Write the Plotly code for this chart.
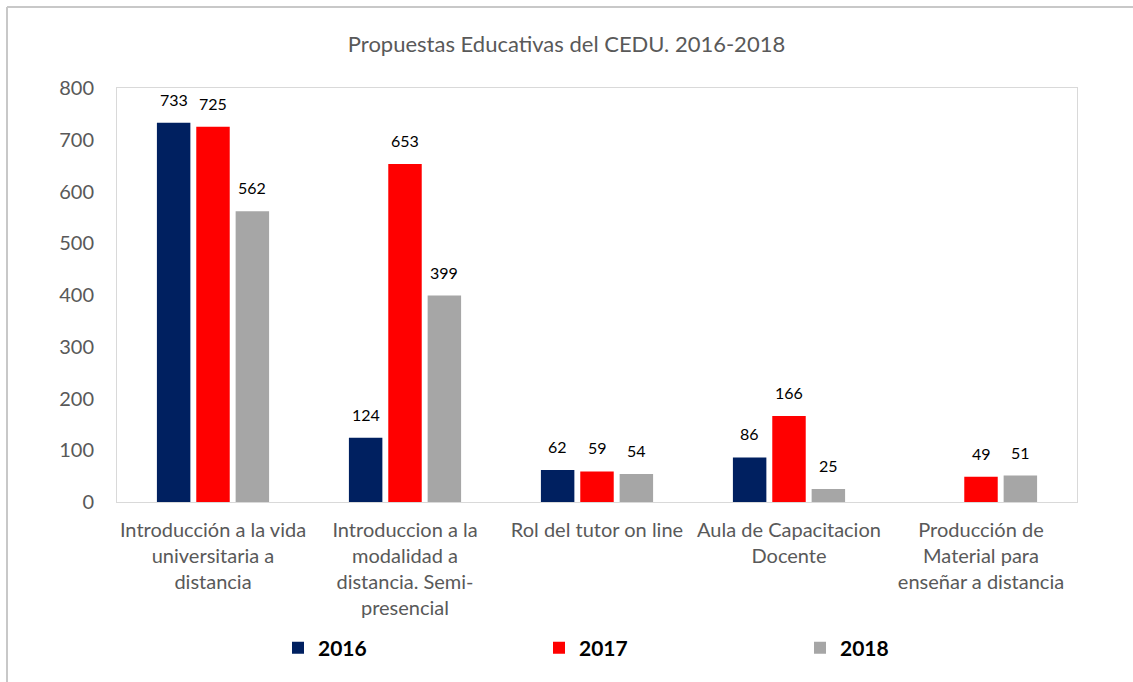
import plotly.graph_objects as go

categories = [
    "Introducción a la vida<br>universitaria a<br>distancia",
    "Introduccion a la<br>modalidad a<br>distancia. Semi-<br>presencial",
    "Rol del tutor on line",
    "Aula de Capacitacion<br>Docente",
    "Producción de<br>Material para<br>enseñar a distancia",
]
years = ["2016", "2017", "2018"]
v2016 = [733, 124, 62, 86, None]
v2017 = [725, 653, 59, 166, 49]
v2018 = [562, 399, 54, 25, 51]
y_ticks = [0, 100, 200, 300, 400, 500, 600, 700, 800]

colors = ["#002060", "#FF0000", "#A6A6A6"]
FONT = "Lato"
BARGAP = 0.385
series = [v2016, v2017, v2018]

fig = go.Figure()
for name, vals, col in zip(years, series, colors):
    fig.add_trace(go.Bar(
        name=name, x=categories, y=vals, marker=dict(color=col, line=dict(width=0)),
    ))

# value labels above each bar (positions from category index + group slot offset)
n = len(series)
slot = (1 - BARGAP) / n
for j, vals in enumerate(series):
    off = (j - (n - 1) / 2) * slot
    for i, v in enumerate(vals):
        if v is None:
            continue
        fig.add_annotation(x=i + off, y=v, xref="x", yref="y", text=str(v), showarrow=False,
                           yanchor="bottom", yshift=12,
                           font=dict(family=FONT, size=16, color="#000000"))

fig.update_layout(
    width=1133, height=682,
    barmode="group", bargap=BARGAP, bargroupgap=0.15,
    paper_bgcolor="white", plot_bgcolor="white",
    margin=dict(l=117, r=56, t=88, b=180, autoexpand=False),
    title=dict(text="Propuestas Educativas del CEDU. 2016-2018", x=0.5, xanchor="center",
               y=1 - 44 / 682, yanchor="middle",
               font=dict(family=FONT, size=22, color="#595959")),
    font=dict(family=FONT),
    showlegend=True,
    legend=dict(orientation="h", x=(278 - 117) / 960, xanchor="left", y=(502 - 648) / 414, yanchor="middle",
                entrywidth=216, entrywidthmode="pixels",
                font=dict(family=FONT, size=21, color="#000000", weight="bold"),
                itemclick=False),
)
fig.update_xaxes(showline=True, linecolor="#D9D9D9", mirror=True, ticks="", showgrid=False,
                 tickfont=dict(family=FONT, size=20, color="#595959"), tickangle=0,
                 ticklabelstandoff=10, automargin=False)
fig.update_yaxes(range=[0, 800], tickvals=y_ticks, showline=True, linecolor="#D9D9D9", mirror=True,
                 showgrid=False, zeroline=False, ticks="", automargin=False,
                 tickfont=dict(family=FONT, size=20, color="#595959"), ticklabelstandoff=18)

# outer chart border (left and top edges visible)
fig.add_shape(type="line", xref="paper", yref="paper", x0=(7 - 117) / 960, x1=1.2,
              y0=(502 - 7) / 414, y1=(502 - 7) / 414, line=dict(color="#C8C8C8", width=2))
fig.add_shape(type="line", xref="paper", yref="paper", x0=(7 - 117) / 960, x1=(7 - 117) / 960,
              y0=(502 - 7) / 414, y1=-0.5, line=dict(color="#C8C8C8", width=2))

fig.write_html("out.html", config={"displayModeBar": False},
               post_script="document.body.style.margin='0';")
